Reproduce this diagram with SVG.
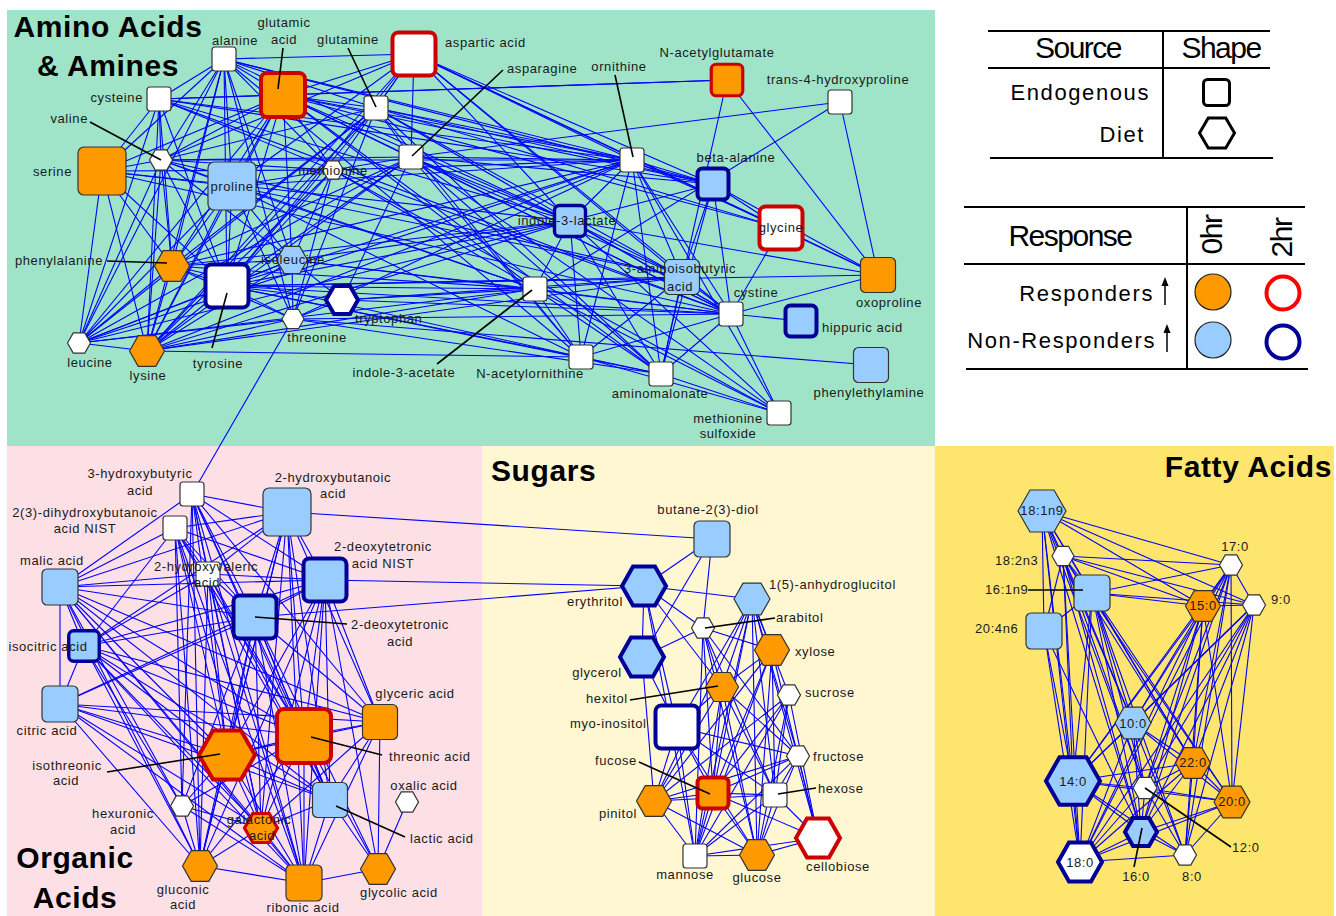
<svg xmlns="http://www.w3.org/2000/svg" width="1336" height="916" viewBox="0 0 1336 916">
<style>
.e{stroke:#0000ff;stroke-width:1.1;fill:none}
.w{fill:#fff}.o{fill:#ff9900}.b{fill:#99ccff}
.t{stroke:#333;stroke-width:1.2}
.r{stroke:#cc0000;stroke-width:4}
.r3{stroke:#cc0000;stroke-width:3.2}
.d{stroke:#000099;stroke-width:4}
.d3{stroke:#000099;stroke-width:3.4}
.ld{stroke:#000;stroke-width:1.6}
text{font-family:"Liberation Sans",Arial,sans-serif;fill:#1a1a1a}
.l{font-size:13px;letter-spacing:.6px}
.m{text-anchor:middle}.n{text-anchor:end}
.tt{font-size:30px;font-weight:bold;letter-spacing:.6px;fill:#000}
.lh{font-size:30px;letter-spacing:-1.5px;fill:#000}
.lg{font-size:22px;letter-spacing:1.6px;fill:#000}
.gl{stroke:#000;stroke-width:2}
</style>
<rect width="1336" height="916" fill="#fff"/>
<g id="panels">
<rect x="7" y="10" width="928" height="436" fill="#9fe4c8"/>
<rect x="7" y="446" width="475" height="470" fill="#fde0e6"/>
<rect x="482" y="446" width="453" height="470" fill="#fff6d2"/>
<rect x="935" y="446" width="399" height="470" fill="#fee66e"/>
<text class="tt m" x="108" y="37">Amino Acids</text>
<text class="tt m" x="108" y="76">&amp; Amines</text>
<text class="tt m" x="75" y="868">Organic</text>
<text class="tt m" x="75" y="908">Acids</text>
<text class="tt" x="491" y="481">Sugars</text>
<text class="tt n" x="1332" y="477">Fatty Acids</text>
</g>
<g id="connectors" class="e">
<path d="M224 59 414 54"/><path d="M224 59 283 95"/><path d="M224 59 376 108"/><path d="M224 59 159 99"/><path d="M224 59 161 160"/><path d="M224 59 102 171"/><path d="M224 59 232 186"/><path d="M224 59 172 266"/><path d="M224 59 227 286"/><path d="M224 59 79 343"/><path d="M224 59 147 351"/><path d="M224 59 292 260"/><path d="M224 59 293 319"/><path d="M224 59 333 170"/><path d="M224 59 632 160"/><path d="M224 59 713 184"/><path d="M224 59 570 221"/><path d="M224 59 581 357"/>
<path d="M283 95 414 54"/><path d="M283 95 376 108"/><path d="M283 95 159 99"/><path d="M283 95 161 160"/><path d="M283 95 102 171"/><path d="M283 95 232 186"/><path d="M283 95 172 266"/><path d="M283 95 227 286"/><path d="M283 95 79 343"/><path d="M283 95 147 351"/><path d="M283 95 292 260"/><path d="M283 95 333 170"/><path d="M283 95 411 157"/><path d="M283 95 632 160"/><path d="M283 95 727 80"/><path d="M283 95 713 184"/><path d="M283 95 570 221"/><path d="M283 95 781 228"/><path d="M283 95 731 314"/><path d="M283 95 661 374"/><path d="M283 95 535 289"/>
<path d="M414 54 376 108"/><path d="M414 54 411 157"/><path d="M414 54 632 160"/><path d="M414 54 713 184"/><path d="M414 54 570 221"/><path d="M414 54 682 277"/><path d="M414 54 781 228"/><path d="M414 54 333 170"/><path d="M414 54 232 186"/><path d="M414 54 227 286"/><path d="M414 54 147 351"/><path d="M414 54 161 160"/><path d="M414 54 878 275"/><path d="M414 54 731 314"/>
<path d="M376 108 411 157"/><path d="M376 108 632 160"/><path d="M376 108 713 184"/><path d="M376 108 781 228"/><path d="M376 108 731 314"/><path d="M376 108 682 277"/><path d="M376 108 661 374"/><path d="M376 108 227 286"/><path d="M376 108 79 343"/><path d="M376 108 147 351"/><path d="M376 108 172 266"/><path d="M376 108 161 160"/><path d="M376 108 293 319"/><path d="M376 108 581 357"/>
<path d="M159 99 161 160"/><path d="M159 99 102 171"/><path d="M159 99 79 343"/><path d="M159 99 147 351"/><path d="M159 99 172 266"/><path d="M159 99 632 160"/><path d="M159 99 713 184"/><path d="M159 99 570 221"/><path d="M159 99 227 286"/><path d="M159 99 333 170"/><path d="M159 99 731 314"/>
<path d="M161 160 102 171"/><path d="M161 160 232 186"/><path d="M161 160 333 170"/><path d="M161 160 411 157"/><path d="M161 160 172 266"/><path d="M161 160 79 343"/><path d="M161 160 147 351"/><path d="M161 160 227 286"/><path d="M161 160 632 160"/><path d="M161 160 535 289"/><path d="M161 160 682 277"/><path d="M161 160 292 260"/>
<path d="M102 171 232 186"/><path d="M102 171 79 343"/><path d="M102 171 147 351"/><path d="M102 171 172 266"/><path d="M102 171 227 286"/><path d="M102 171 333 170"/><path d="M102 171 570 221"/><path d="M102 171 731 314"/>
<path d="M232 186 333 170"/><path d="M232 186 172 266"/><path d="M232 186 227 286"/><path d="M232 186 79 343"/><path d="M232 186 147 351"/><path d="M232 186 292 260"/><path d="M232 186 293 319"/><path d="M232 186 632 160"/><path d="M232 186 535 289"/><path d="M232 186 682 277"/><path d="M232 186 581 357"/>
<path d="M333 170 411 157"/><path d="M333 170 292 260"/><path d="M333 170 293 319"/><path d="M333 170 227 286"/><path d="M333 170 147 351"/><path d="M333 170 632 160"/><path d="M333 170 535 289"/><path d="M333 170 731 314"/><path d="M333 170 779 413"/>
<path d="M411 157 632 160"/><path d="M411 157 713 184"/><path d="M411 157 570 221"/><path d="M411 157 682 277"/><path d="M411 157 731 314"/><path d="M411 157 661 374"/><path d="M411 157 227 286"/><path d="M411 157 172 266"/><path d="M411 157 79 343"/><path d="M411 157 147 351"/><path d="M411 157 342 300"/><path d="M411 157 581 357"/><path d="M411 157 779 413"/>
<path d="M727 80 159 99"/><path d="M727 80 661 374"/><path d="M727 80 878 275"/>
<path d="M632 160 713 184"/><path d="M632 160 781 228"/><path d="M632 160 570 221"/><path d="M632 160 682 277"/><path d="M632 160 731 314"/><path d="M632 160 661 374"/><path d="M632 160 581 357"/><path d="M632 160 779 413"/><path d="M632 160 227 286"/><path d="M632 160 79 343"/><path d="M632 160 147 351"/><path d="M632 160 172 266"/><path d="M632 160 293 319"/>
<path d="M840 102 878 275"/><path d="M840 102 535 289"/><path d="M840 102 411 157"/>
<path d="M713 184 781 228"/><path d="M713 184 682 277"/><path d="M713 184 731 314"/><path d="M713 184 661 374"/><path d="M713 184 878 275"/><path d="M713 184 570 221"/>
<path d="M570 221 535 289"/><path d="M570 221 682 277"/><path d="M570 221 731 314"/><path d="M570 221 661 374"/><path d="M570 221 581 357"/><path d="M570 221 779 413"/><path d="M570 221 878 275"/><path d="M570 221 227 286"/><path d="M570 221 172 266"/><path d="M570 221 147 351"/><path d="M570 221 79 343"/><path d="M570 221 292 260"/>
<path d="M781 228 731 314"/><path d="M781 228 878 275"/>
<path d="M682 277 731 314"/><path d="M682 277 661 374"/><path d="M682 277 581 357"/><path d="M682 277 535 289"/><path d="M682 277 227 286"/><path d="M682 277 147 351"/><path d="M682 277 342 300"/>
<path d="M731 314 801 321"/><path d="M731 314 878 275"/><path d="M731 314 779 413"/><path d="M731 314 661 374"/><path d="M731 314 581 357"/><path d="M731 314 535 289"/><path d="M731 314 342 300"/><path d="M731 314 293 319"/>
<path d="M172 266 227 286"/><path d="M172 266 79 343"/><path d="M172 266 147 351"/><path d="M172 266 292 260"/><path d="M172 266 293 319"/><path d="M172 266 535 289"/><path d="M172 266 581 357"/>
<path d="M227 286 79 343"/><path d="M227 286 147 351"/><path d="M227 286 292 260"/><path d="M227 286 293 319"/><path d="M227 286 342 300"/><path d="M227 286 535 289"/><path d="M227 286 581 357"/><path d="M227 286 661 374"/><path d="M227 286 731 314"/><path d="M227 286 878 275"/>
<path d="M292 260 293 319"/><path d="M292 260 342 300"/><path d="M292 260 79 343"/><path d="M292 260 147 351"/><path d="M292 260 535 289"/><path d="M292 260 731 314"/>
<path d="M342 300 293 319"/><path d="M342 300 535 289"/>
<path d="M293 319 79 343"/><path d="M293 319 147 351"/><path d="M293 319 661 374"/><path d="M293 319 871 365"/>
<path d="M79 343 147 351"/><path d="M79 343 535 289"/><path d="M147 351 581 357"/><path d="M147 351 535 289"/>
<path d="M535 289 581 357"/><path d="M535 289 661 374"/><path d="M535 289 779 413"/><path d="M581 357 661 374"/><path d="M581 357 779 413"/><path d="M661 374 779 413"/>
<path d="M293 319 192 494"/><path d="M287 512 712 539"/><path d="M325 580 644 586"/><path d="M255 617 644 586"/>
<path d="M192 494 287 512"/><path d="M192 494 60 587"/><path d="M192 494 208 574"/><path d="M192 494 255 617"/><path d="M192 494 325 580"/><path d="M192 494 227 755"/><path d="M192 494 304 736"/><path d="M192 494 261 828"/><path d="M192 494 200 866"/><path d="M192 494 304 883"/><path d="M192 494 330 800"/><path d="M192 494 380 722"/><path d="M192 494 182 806"/>
<path d="M175 528 287 512"/><path d="M175 528 60 587"/><path d="M175 528 84 646"/><path d="M175 528 208 574"/><path d="M175 528 255 617"/><path d="M175 528 325 580"/><path d="M175 528 227 755"/><path d="M175 528 304 736"/><path d="M175 528 261 828"/><path d="M175 528 200 866"/><path d="M175 528 304 883"/><path d="M175 528 330 800"/><path d="M175 528 182 806"/>
<path d="M287 512 60 587"/><path d="M287 512 208 574"/><path d="M287 512 255 617"/><path d="M287 512 325 580"/><path d="M287 512 227 755"/><path d="M287 512 304 736"/><path d="M287 512 261 828"/><path d="M287 512 200 866"/><path d="M287 512 304 883"/><path d="M287 512 330 800"/><path d="M287 512 380 722"/><path d="M287 512 84 646"/>
<path d="M60 587 208 574"/><path d="M60 587 255 617"/><path d="M60 587 325 580"/><path d="M60 587 84 646"/><path d="M60 587 60 704"/><path d="M60 587 227 755"/><path d="M60 587 304 736"/><path d="M60 587 261 828"/><path d="M60 587 200 866"/><path d="M60 587 304 883"/><path d="M60 587 182 806"/><path d="M60 587 380 722"/><path d="M60 587 330 800"/>
<path d="M208 574 255 617"/><path d="M208 574 325 580"/><path d="M208 574 227 755"/><path d="M208 574 304 736"/><path d="M208 574 261 828"/><path d="M208 574 200 866"/><path d="M208 574 304 883"/><path d="M208 574 330 800"/><path d="M208 574 84 646"/>
<path d="M325 580 255 617"/><path d="M325 580 84 646"/><path d="M325 580 227 755"/><path d="M325 580 304 736"/><path d="M325 580 261 828"/><path d="M325 580 200 866"/><path d="M325 580 304 883"/><path d="M325 580 330 800"/><path d="M325 580 380 722"/><path d="M325 580 378 869"/><path d="M325 580 60 704"/>
<path d="M255 617 84 646"/><path d="M255 617 60 704"/><path d="M255 617 227 755"/><path d="M255 617 304 736"/><path d="M255 617 261 828"/><path d="M255 617 200 866"/><path d="M255 617 304 883"/><path d="M255 617 330 800"/><path d="M255 617 380 722"/><path d="M255 617 378 869"/><path d="M255 617 182 806"/>
<path d="M84 646 60 704"/><path d="M84 646 227 755"/><path d="M84 646 304 736"/><path d="M84 646 261 828"/><path d="M84 646 200 866"/><path d="M84 646 304 883"/><path d="M84 646 182 806"/><path d="M84 646 330 800"/><path d="M84 646 380 722"/>
<path d="M60 704 227 755"/><path d="M60 704 304 736"/><path d="M60 704 261 828"/><path d="M60 704 200 866"/><path d="M60 704 304 883"/><path d="M60 704 380 722"/><path d="M60 704 330 800"/>
<path d="M227 755 304 736"/><path d="M227 755 380 722"/><path d="M227 755 261 828"/><path d="M227 755 200 866"/><path d="M227 755 304 883"/><path d="M227 755 330 800"/><path d="M227 755 182 806"/>
<path d="M304 736 380 722"/><path d="M304 736 330 800"/><path d="M304 736 261 828"/><path d="M304 736 200 866"/><path d="M304 736 304 883"/><path d="M304 736 378 869"/><path d="M304 736 182 806"/>
<path d="M380 722 330 800"/><path d="M380 722 378 869"/><path d="M380 722 304 883"/><path d="M380 722 261 828"/>
<path d="M330 800 378 869"/><path d="M330 800 304 883"/><path d="M330 800 261 828"/><path d="M407 802 378 869"/>
<path d="M182 806 200 866"/><path d="M182 806 304 883"/><path d="M182 806 261 828"/><path d="M261 828 200 866"/><path d="M261 828 304 883"/><path d="M200 866 304 883"/><path d="M304 883 378 869"/>
<path d="M712 539 644 586"/><path d="M712 539 642 657"/><path d="M712 539 703 628"/>
<path d="M644 586 642 657"/><path d="M644 586 752 599"/><path d="M644 586 703 628"/><path d="M644 586 722 687"/><path d="M644 586 677 727"/><path d="M644 586 695 856"/>
<path d="M752 599 722 687"/><path d="M752 599 772 650"/><path d="M752 599 789 695"/><path d="M752 599 677 727"/><path d="M752 599 798 756"/><path d="M752 599 713 793"/><path d="M752 599 775 795"/><path d="M752 599 654 801"/><path d="M752 599 695 856"/><path d="M752 599 757 855"/><path d="M752 599 818 838"/>
<path d="M703 628 642 657"/><path d="M703 628 772 650"/><path d="M703 628 722 687"/><path d="M703 628 713 793"/><path d="M703 628 695 856"/><path d="M703 628 757 855"/><path d="M703 628 798 756"/><path d="M703 628 775 795"/>
<path d="M772 650 722 687"/><path d="M772 650 713 793"/><path d="M772 650 695 856"/><path d="M772 650 757 855"/><path d="M772 650 775 795"/><path d="M772 650 818 838"/><path d="M772 650 654 801"/>
<path d="M642 657 677 727"/><path d="M642 657 654 801"/>
<path d="M722 687 677 727"/><path d="M722 687 713 793"/><path d="M722 687 695 856"/><path d="M722 687 757 855"/><path d="M722 687 654 801"/><path d="M722 687 775 795"/><path d="M722 687 798 756"/>
<path d="M789 695 818 838"/><path d="M789 695 713 793"/><path d="M789 695 695 856"/><path d="M789 695 757 855"/><path d="M789 695 775 795"/><path d="M789 695 654 801"/>
<path d="M677 727 713 793"/><path d="M677 727 695 856"/><path d="M677 727 654 801"/><path d="M677 727 757 855"/><path d="M677 727 798 756"/><path d="M677 727 775 795"/>
<path d="M798 756 713 793"/><path d="M798 756 654 801"/><path d="M798 756 695 856"/><path d="M798 756 757 855"/><path d="M798 756 775 795"/><path d="M798 756 818 838"/>
<path d="M713 793 654 801"/><path d="M713 793 695 856"/><path d="M713 793 757 855"/><path d="M713 793 775 795"/><path d="M713 793 818 838"/>
<path d="M775 795 654 801"/><path d="M775 795 695 856"/><path d="M775 795 757 855"/><path d="M775 795 818 838"/>
<path d="M654 801 695 856"/><path d="M654 801 757 855"/><path d="M695 856 757 855"/><path d="M695 856 818 838"/><path d="M757 855 818 838"/>
<path d="M1042 511 1063 556"/><path d="M1042 511 1231 565"/><path d="M1042 511 1203 606"/><path d="M1042 511 1254 605"/><path d="M1042 511 1092 593"/><path d="M1042 511 1044 631"/><path d="M1042 511 1073 781"/><path d="M1042 511 1133 723"/><path d="M1042 511 1193 763"/><path d="M1042 511 1141 832"/><path d="M1042 511 1080 862"/><path d="M1042 511 1145 788"/>
<path d="M1063 556 1231 565"/><path d="M1063 556 1203 606"/><path d="M1063 556 1254 605"/><path d="M1063 556 1092 593"/><path d="M1063 556 1044 631"/><path d="M1063 556 1073 781"/><path d="M1063 556 1133 723"/><path d="M1063 556 1193 763"/><path d="M1063 556 1141 832"/><path d="M1063 556 1080 862"/><path d="M1063 556 1232 802"/><path d="M1063 556 1145 788"/>
<path d="M1231 565 1092 593"/><path d="M1231 565 1203 606"/><path d="M1231 565 1254 605"/><path d="M1231 565 1133 723"/><path d="M1231 565 1073 781"/><path d="M1231 565 1193 763"/><path d="M1231 565 1232 802"/><path d="M1231 565 1141 832"/><path d="M1231 565 1080 862"/><path d="M1231 565 1145 788"/><path d="M1231 565 1185 855"/>
<path d="M1092 593 1203 606"/><path d="M1092 593 1254 605"/><path d="M1092 593 1044 631"/><path d="M1092 593 1133 723"/><path d="M1092 593 1193 763"/><path d="M1092 593 1232 802"/><path d="M1092 593 1141 832"/><path d="M1092 593 1080 862"/><path d="M1092 593 1145 788"/><path d="M1092 593 1073 781"/><path d="M1092 593 1185 855"/>
<path d="M1203 606 1254 605"/><path d="M1203 606 1133 723"/><path d="M1203 606 1073 781"/><path d="M1203 606 1193 763"/><path d="M1203 606 1232 802"/><path d="M1203 606 1141 832"/><path d="M1203 606 1080 862"/><path d="M1203 606 1145 788"/><path d="M1203 606 1185 855"/>
<path d="M1254 605 1133 723"/><path d="M1254 605 1073 781"/><path d="M1254 605 1193 763"/><path d="M1254 605 1232 802"/><path d="M1254 605 1141 832"/><path d="M1254 605 1080 862"/><path d="M1254 605 1145 788"/><path d="M1254 605 1185 855"/>
<path d="M1044 631 1073 781"/><path d="M1044 631 1080 862"/><path d="M1044 631 1141 832"/>
<path d="M1133 723 1193 763"/><path d="M1133 723 1073 781"/><path d="M1133 723 1145 788"/><path d="M1133 723 1232 802"/><path d="M1133 723 1141 832"/><path d="M1133 723 1080 862"/><path d="M1133 723 1185 855"/>
<path d="M1193 763 1073 781"/><path d="M1193 763 1145 788"/><path d="M1193 763 1232 802"/><path d="M1193 763 1141 832"/><path d="M1193 763 1080 862"/><path d="M1193 763 1185 855"/>
<path d="M1073 781 1145 788"/><path d="M1073 781 1232 802"/><path d="M1073 781 1141 832"/><path d="M1073 781 1080 862"/><path d="M1073 781 1185 855"/>
<path d="M1145 788 1232 802"/><path d="M1145 788 1141 832"/><path d="M1145 788 1080 862"/><path d="M1145 788 1185 855"/>
<path d="M1232 802 1141 832"/><path d="M1232 802 1080 862"/><path d="M1232 802 1185 855"/><path d="M1141 832 1080 862"/><path d="M1141 832 1185 855"/><path d="M1080 862 1185 855"/>
</g>
<g id="amino-nodes">
<g id="alanine"><rect class="w t" x="212" y="47" width="24" height="24" rx="3"/><text class="l m" x="235" y="45">alanine</text></g>
<g id="glutamic-acid"><rect class="o r" x="261" y="73" width="44" height="44" rx="6"/><line class="ld" x1="283" y1="48" x2="278" y2="89"/><text class="l m" x="284" y="27">glutamic</text><text class="l m" x="284" y="44">acid</text></g>
<g id="glutamine"><rect class="w t" x="364" y="96" width="24" height="24" rx="3"/><line class="ld" x1="348" y1="48" x2="376" y2="107"/><text class="l m" x="348" y="44">glutamine</text></g>
<g id="aspartic-acid"><rect class="w r" x="392.5" y="32.5" width="43" height="43" rx="6"/><text class="l" x="445" y="47">aspartic acid</text></g>
<g id="cysteine"><rect class="w t" x="147" y="87" width="24" height="24" rx="3"/><text class="l n" x="143" y="102">cysteine</text></g>
<g id="valine"><polygon class="w t" points="149.5,160 155.25,149.9 166.75,149.9 172.5,160 166.75,170.1 155.25,170.1"/><line class="ld" x1="90" y1="122" x2="161" y2="160"/><text class="l n" x="88" y="123">valine</text></g>
<g id="serine"><rect class="o t" x="78" y="147" width="48" height="48" rx="6"/><text class="l n" x="72" y="176">serine</text></g>
<g id="proline"><rect class="b t" x="208" y="162" width="48" height="48" rx="6"/><text class="l m" x="232" y="191">proline</text></g>
<g id="methionine"><polygon class="w t" points="322.5,170 327.75,160.8 338.25,160.8 343.5,170 338.25,179.2 327.75,179.2"/><text class="l m" x="333" y="175">methionine</text></g>
<g id="asparagine"><rect class="w t" x="399" y="145" width="24" height="24" rx="3"/><line class="ld" x1="503" y1="70" x2="412" y2="156"/><text class="l" x="507" y="73">asparagine</text></g>
<g id="N-acetylglutamate"><rect class="o r3" x="711.25" y="64.25" width="31.5" height="31.5" rx="5"/><text class="l m" x="717" y="57">N-acetylglutamate</text></g>
<g id="ornithine"><rect class="w t" x="620" y="148" width="24" height="24" rx="3"/><line class="ld" x1="615" y1="75" x2="633" y2="157"/><text class="l m" x="619" y="71">ornithine</text></g>
<g id="trans-4-hydroxyproline"><rect class="w t" x="828" y="90" width="24" height="24" rx="3"/><text class="l m" x="838" y="84">trans-4-hydroxyproline</text></g>
<g id="beta-alanine"><rect class="b d" x="697.5" y="168.5" width="31" height="31" rx="5"/><text class="l m" x="736" y="162">beta-alanine</text></g>
<g id="indole-3-lactate"><rect class="b d3" x="554.5" y="205.5" width="31" height="31" rx="5"/><text class="l m" x="567" y="225">indole-3-lactate</text></g>
<g id="glycine"><rect class="w r" x="759.5" y="206.5" width="43" height="43" rx="6"/><text class="l m" x="781" y="232">glycine</text></g>
<g id="phenylalanine"><polygon class="o t" points="154.5,266 163.25,250.6 180.75,250.6 189.5,266 180.75,281.4 163.25,281.4"/><line class="ld" x1="107" y1="261" x2="167" y2="263"/><text class="l n" x="103" y="265">phenylalanine</text></g>
<g id="tyrosine"><rect class="w d" x="205.5" y="264.5" width="43" height="43" rx="6"/><line class="ld" x1="212" y1="348" x2="227" y2="293"/><text class="l m" x="218" y="368">tyrosine</text></g>
<g id="isoleucine"><polygon class="b t" points="276.5,260 284.25,246.4 299.75,246.4 307.5,260 299.75,273.6 284.25,273.6"/><text class="l m" x="293" y="264">isoleucine</text></g>
<g id="tryptophan"><polygon class="w d" points="326,300 334,286 350,286 358,300 350,314 334,314"/><text class="l" x="355" y="323">tryptophan</text></g>
<g id="threonine"><polygon class="w t" points="282,319 287.5,309.3 298.5,309.3 304,319 298.5,328.7 287.5,328.7"/><text class="l m" x="317" y="342">threonine</text></g>
<g id="leucine"><polygon class="w t" points="67.5,343 73.25,332.9 84.75,332.9 90.5,343 84.75,353.1 73.25,353.1"/><text class="l m" x="90" y="367">leucine</text></g>
<g id="lysine"><polygon class="o t" points="129.5,351 138.25,335.6 155.75,335.6 164.5,351 155.75,366.4 138.25,366.4"/><text class="l m" x="148" y="380">lysine</text></g>
<g id="indole-3-acetate"><rect class="w t" x="523" y="277" width="24" height="24" rx="3"/><line class="ld" x1="437" y1="364" x2="532" y2="290"/><text class="l m" x="404" y="377">indole-3-acetate</text></g>
<g id="3-aminoisobutyric-acid"><rect class="b t" x="664.5" y="259.5" width="35" height="35" rx="5"/><text class="l m" x="680" y="273">3-aminoisobutyric</text><text class="l m" x="680" y="291">acid</text></g>
<g id="oxoproline"><rect class="o t" x="860.5" y="257.5" width="35" height="35" rx="5"/><text class="l m" x="889" y="307">oxoproline</text></g>
<g id="cystine"><rect class="w t" x="719" y="302" width="24" height="24" rx="3"/><text class="l m" x="756" y="297">cystine</text></g>
<g id="hippuric-acid"><rect class="b d" x="785.5" y="305.5" width="31" height="31" rx="5"/><text class="l" x="822" y="332">hippuric acid</text></g>
<g id="phenylethylamine"><rect class="b t" x="853.5" y="347.5" width="35" height="35" rx="5"/><text class="l m" x="869" y="397">phenylethylamine</text></g>
<g id="N-acetylornithine"><rect class="w t" x="569" y="345" width="24" height="24" rx="3"/><text class="l m" x="530" y="378">N-acetylornithine</text></g>
<g id="aminomalonate"><rect class="w t" x="649" y="362" width="24" height="24" rx="3"/><text class="l m" x="660" y="398">aminomalonate</text></g>
<g id="methionine-sulfoxide"><rect class="w t" x="767" y="401" width="24" height="24" rx="3"/><text class="l m" x="728" y="423">methionine</text><text class="l m" x="728" y="438">sulfoxide</text></g>
</g>
<g id="organic-nodes">
<g id="3-hydroxybutyric-acid"><rect class="w t" x="180" y="482" width="24" height="24" rx="3"/><text class="l m" x="140" y="478">3-hydroxybutyric</text><text class="l m" x="140" y="495">acid</text></g>
<g id="dihydroxybutanoic-acid"><rect class="w t" x="163" y="516" width="24" height="24" rx="3"/><text class="l m" x="85" y="517">2(3)-dihydroxybutanoic</text><text class="l m" x="85" y="533">acid NIST</text></g>
<g id="2-hydroxybutanoic-acid"><rect class="b t" x="263" y="488" width="48" height="48" rx="6"/><text class="l m" x="333" y="482">2-hydroxybutanoic</text><text class="l m" x="333" y="498">acid</text></g>
<g id="malic-acid"><rect class="b t" x="42" y="569" width="36" height="36" rx="5"/><text class="l m" x="52" y="565">malic acid</text></g>
<g id="2-hydroxyvaleric-acid"><rect class="w t" x="196" y="562" width="24" height="24" rx="3"/><text class="l m" x="206" y="571">2-hydroxyvaleric</text><text class="l m" x="207" y="587">acid</text></g>
<g id="2-deoxytetronic-acid-NIST"><rect class="b d" x="303.5" y="558.5" width="43" height="43" rx="6"/><text class="l m" x="383" y="551">2-deoxytetronic</text><text class="l m" x="383" y="568">acid NIST</text></g>
<g id="2-deoxytetronic-acid"><rect class="b d" x="233.5" y="595.5" width="43" height="43" rx="6"/><line class="ld" x1="255" y1="617" x2="347" y2="624"/><text class="l m" x="400" y="629">2-deoxytetronic</text><text class="l m" x="400" y="646">acid</text></g>
<g id="isocitric-acid"><rect class="b d3" x="68.75" y="630.75" width="30.5" height="30.5" rx="5"/><text class="l m" x="48" y="651">isocitric acid</text></g>
<g id="citric-acid"><rect class="b t" x="42" y="686" width="36" height="36" rx="5"/><text class="l m" x="47" y="735">citric acid</text></g>
<g id="isothreonic-acid"><polygon class="o r" points="199,755 213,730.4 241,730.4 255,755 241,779.6 213,779.6"/><line class="ld" x1="107" y1="772" x2="220" y2="754"/><text class="l m" x="67" y="770">isothreonic</text><text class="l m" x="66" y="785">acid</text></g>
<g id="threonic-acid"><rect class="o r" x="277" y="709" width="54" height="54" rx="7"/><line class="ld" x1="311" y1="737" x2="382" y2="755"/><text class="l" x="389" y="761">threonic acid</text></g>
<g id="glyceric-acid"><rect class="o t" x="362.5" y="704.5" width="35" height="35" rx="5"/><text class="l m" x="415" y="698">glyceric acid</text></g>
<g id="lactic-acid"><rect class="b t" x="312.5" y="782.5" width="35" height="35" rx="5"/><line class="ld" x1="336" y1="806" x2="405" y2="837"/><text class="l" x="410" y="843">lactic acid</text></g>
<g id="oxalic-acid"><polygon class="w t" points="395.5,802 401.25,791.9 412.75,791.9 418.5,802 412.75,812.1 401.25,812.1"/><text class="l m" x="424" y="790">oxalic acid</text></g>
<g id="hexuronic-acid"><polygon class="w t" points="170.5,806 176.25,795.9 187.75,795.9 193.5,806 187.75,816.1 176.25,816.1"/><text class="l m" x="123" y="818">hexuronic</text><text class="l m" x="123" y="834">acid</text></g>
<g id="galactonic-acid"><polygon class="o r3" points="244.5,828 252.75,813.5 269.25,813.5 277.5,828 269.25,842.5 252.75,842.5"/><text class="l m" x="259" y="824">galactonic</text><text class="l m" x="262" y="840">acid</text></g>
<g id="gluconic-acid"><polygon class="o t" points="182.5,866 191.25,850.6 208.75,850.6 217.5,866 208.75,881.4 191.25,881.4"/><text class="l m" x="183" y="894">gluconic</text><text class="l m" x="183" y="909">acid</text></g>
<g id="ribonic-acid"><rect class="o t" x="286" y="865" width="36" height="36" rx="5"/><text class="l m" x="303" y="912">ribonic acid</text></g>
<g id="glycolic-acid"><polygon class="o t" points="360.5,869 369.25,853.6 386.75,853.6 395.5,869 386.75,884.4 369.25,884.4"/><text class="l m" x="399" y="897">glycolic acid</text></g>
</g>
<g id="sugar-nodes">
<g id="butane-diol"><rect class="b t" x="694" y="521" width="36" height="36" rx="5"/><text class="l m" x="708" y="514">butane-2(3)-diol</text></g>
<g id="erythritol"><polygon class="b d" points="622,586 633,566.6 655,566.6 666,586 655,605.4 633,605.4"/><text class="l m" x="595" y="606">erythritol</text></g>
<g id="anhydroglucitol"><polygon class="b t" points="734,599 743,583.2 761,583.2 770,599 761,614.8 743,614.8"/><text class="l" x="769" y="589">1(5)-anhydroglucitol</text></g>
<g id="arabitol"><polygon class="w t" points="691.5,628 697.25,617.9 708.75,617.9 714.5,628 708.75,638.1 697.25,638.1"/><line class="ld" x1="705" y1="628" x2="775" y2="618"/><text class="l" x="776" y="622">arabitol</text></g>
<g id="xylose"><polygon class="o t" points="754.5,650 763.25,634.6 780.75,634.6 789.5,650 780.75,665.4 763.25,665.4"/><text class="l" x="795" y="656">xylose</text></g>
<g id="glycerol"><polygon class="b d" points="620,657 631,637.6 653,637.6 664,657 653,676.4 631,676.4"/><text class="l m" x="597" y="677">glycerol</text></g>
<g id="hexitol"><polygon class="o t" points="705.5,687 713.75,672.5 730.25,672.5 738.5,687 730.25,701.5 713.75,701.5"/><line class="ld" x1="630" y1="700" x2="718" y2="686"/><text class="l" x="586" y="703">hexitol</text></g>
<g id="sucrose"><polygon class="w t" points="777.5,695 783.25,684.9 794.75,684.9 800.5,695 794.75,705.1 783.25,705.1"/><text class="l" x="805" y="697">sucrose</text></g>
<g id="myo-inositol"><rect class="w d" x="655.5" y="705.5" width="43" height="43" rx="6"/><text class="l" x="570" y="728">myo-inositol</text></g>
<g id="fructose"><polygon class="w t" points="786.5,756 792.25,745.9 803.75,745.9 809.5,756 803.75,766.1 792.25,766.1"/><text class="l" x="813" y="761">fructose</text></g>
<g id="fucose"><rect class="o r" x="697.5" y="777.5" width="31" height="31" rx="5"/><line class="ld" x1="639" y1="762" x2="710" y2="794"/><text class="l" x="595" y="765">fucose</text></g>
<g id="hexose"><rect class="w t" x="763" y="783" width="24" height="24" rx="3"/><line class="ld" x1="778" y1="794" x2="816" y2="788"/><text class="l" x="818" y="793">hexose</text></g>
<g id="pinitol"><polygon class="o t" points="636.5,801 645.25,785.6 662.75,785.6 671.5,801 662.75,816.4 645.25,816.4"/><text class="l m" x="618" y="818">pinitol</text></g>
<g id="mannose"><rect class="w t" x="683" y="844" width="24" height="24" rx="3"/><text class="l m" x="685" y="879">mannose</text></g>
<g id="glucose"><polygon class="o t" points="739.5,855 748.25,839.6 765.75,839.6 774.5,855 765.75,870.4 748.25,870.4"/><text class="l m" x="757" y="882">glucose</text></g>
<g id="cellobiose"><polygon class="w r" points="796,838 807,818.6 829,818.6 840,838 829,857.4 807,857.4"/><text class="l m" x="838" y="871">cellobiose</text></g>
</g>
<g id="fatty-nodes">
<g id="fa-18-1n9"><polygon class="b t" points="1018,511 1030,490 1054,490 1066,511 1054,532 1030,532"/><text class="l m" x="1042" y="515">18:1n9</text></g>
<g id="fa-18-2n3"><polygon class="w t" points="1052,556 1057.5,546.3 1068.5,546.3 1074,556 1068.5,565.7 1057.5,565.7"/><text class="l" x="995" y="565">18:2n3</text></g>
<g id="fa-17-0"><polygon class="w t" points="1219.5,565 1225.25,554.9 1236.75,554.9 1242.5,565 1236.75,575.1 1225.25,575.1"/><text class="l m" x="1235" y="551">17:0</text></g>
<g id="fa-16-1n9"><rect class="b t" x="1074" y="575" width="36" height="36" rx="5"/><line class="ld" x1="1028" y1="590" x2="1083" y2="590"/><text class="l" x="985" y="594">16:1n9</text></g>
<g id="fa-15-0"><polygon class="o t" points="1185.5,606 1194.25,590.6 1211.75,590.6 1220.5,606 1211.75,621.4 1194.25,621.4"/><text class="l m" x="1203" y="610">15:0</text></g>
<g id="fa-9-0"><polygon class="w t" points="1242.5,605 1248.25,594.9 1259.75,594.9 1265.5,605 1259.75,615.1 1248.25,615.1"/><text class="l" x="1271" y="604">9:0</text></g>
<g id="fa-20-4n6"><rect class="b t" x="1026" y="613" width="36" height="36" rx="5"/><text class="l" x="975" y="633">20:4n6</text></g>
<g id="fa-10-0"><polygon class="b t" points="1115,723 1124,707.2 1142,707.2 1151,723 1142,738.8 1124,738.8"/><text class="l m" x="1133" y="728">10:0</text></g>
<g id="fa-22-0"><polygon class="o t" points="1175.5,763 1184.25,747.6 1201.75,747.6 1210.5,763 1201.75,778.4 1184.25,778.4"/><text class="l m" x="1193" y="767">22:0</text></g>
<g id="fa-14-0"><polygon class="b d" points="1046,781 1059.5,757.2 1086.5,757.2 1100,781 1086.5,804.8 1059.5,804.8"/><text class="l m" x="1073" y="786">14:0</text></g>
<g id="fa-12-0"><polygon class="w t" points="1133,788 1139,777.4 1151,777.4 1157,788 1151,798.6 1139,798.6"/><line class="ld" x1="1145" y1="788" x2="1231" y2="847"/><text class="l" x="1232" y="852">12:0</text></g>
<g id="fa-20-0"><polygon class="o t" points="1214,802 1223,786.2 1241,786.2 1250,802 1241,817.8 1223,817.8"/><text class="l m" x="1232" y="806">20:0</text></g>
<g id="fa-16-0"><polygon class="b d" points="1125,832 1133,818 1149,818 1157,832 1149,846 1133,846"/><line class="ld" x1="1142" y1="828" x2="1134" y2="867"/><text class="l m" x="1136" y="881">16:0</text></g>
<g id="fa-18-0"><polygon class="w d" points="1058,862 1069,842.6 1091,842.6 1102,862 1091,881.4 1069,881.4"/><text class="l m" x="1080" y="867">18:0</text></g>
<g id="fa-8-0"><polygon class="w t" points="1173.5,855 1179.25,844.9 1190.75,844.9 1196.5,855 1190.75,865.1 1179.25,865.1"/><text class="l m" x="1192" y="881">8:0</text></g>
</g>
<g id="legend">
<line class="gl" x1="988" y1="31" x2="1270" y2="31"/>
<line class="gl" x1="988" y1="68" x2="1270" y2="68"/>
<line class="gl" x1="990" y1="158" x2="1273" y2="158"/>
<line class="gl" x1="1163" y1="31" x2="1163" y2="158"/>
<text class="lh m" x="1078" y="58">Source</text>
<text class="lh m" x="1221" y="58">Shape</text>
<text class="lg n" x="1150" y="100">Endogenous</text>
<text class="lg n" x="1145" y="142">Diet</text>
<rect x="1203.5" y="79.5" width="26" height="26" rx="4" fill="#fff" stroke="#000" stroke-width="3"/>
<polygon points="1199.5,133 1208.25,118 1225.75,118 1234.5,133 1225.75,148 1208.25,148" fill="#fff" stroke="#000" stroke-width="3"/>
<line class="gl" x1="964" y1="207" x2="1305" y2="207"/>
<line class="gl" x1="964" y1="264" x2="1305" y2="264"/>
<line class="gl" x1="966" y1="369" x2="1308" y2="369"/>
<line class="gl" x1="1187" y1="207" x2="1187" y2="369"/>
<text class="lh m" x="1070" y="246">Response</text>
<text class="lh m" transform="translate(1222 235) rotate(-90)">0hr</text>
<text class="lh m" transform="translate(1292 238) rotate(-90)">2hr</text>
<text class="lg n" x="1154" y="301">Responders</text>
<text class="lg n" x="1156" y="348">Non-Responders</text>
<line stroke="#000" stroke-width="1.5" x1="1165" y1="305" x2="1165" y2="284"/>
<polygon points="1161.5,286 1165,277 1168.5,286" fill="#000"/>
<line stroke="#000" stroke-width="1.5" x1="1167" y1="352" x2="1167" y2="331"/>
<polygon points="1163.5,333 1167,324 1170.5,333" fill="#000"/>
<circle cx="1213" cy="292" r="18" fill="#ff9900" stroke="#222" stroke-width="1.2"/>
<circle cx="1283" cy="293" r="16.5" fill="#fff" stroke="#ff0000" stroke-width="4"/>
<circle cx="1213" cy="340" r="18" fill="#99ccff" stroke="#222" stroke-width="1.2"/>
<circle cx="1283" cy="342" r="16.5" fill="#fff" stroke="#000099" stroke-width="4"/>
</g>
</svg>
